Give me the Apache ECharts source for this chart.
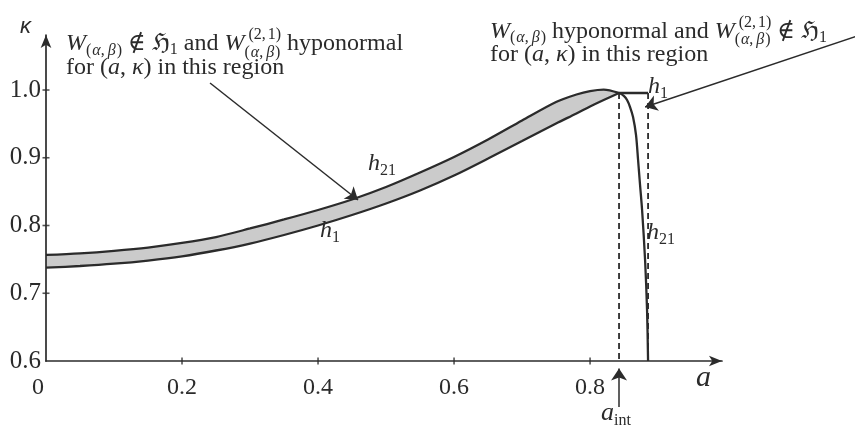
<!DOCTYPE html>
<html>
<head>
<meta charset="utf-8">
<script src="https://cdn.jsdelivr.net/npm/echarts@6/dist/echarts.min.js"></script>
<style>
  html, body { margin: 0; padding: 0; background: #fff; }
  #chart { width: 855px; height: 428px; }
</style>
</head>
<body>
<div id="chart"></div>
<script>
// Sample points a along the shaded band, with the two boundary curves h21 (upper) and h1 (lower)
const aBand   = [0, 0.05, 0.1, 0.15, 0.2, 0.25, 0.3, 0.35, 0.4, 0.45, 0.5, 0.55, 0.6, 0.65, 0.7, 0.75, 0.78, 0.8, 0.82, 0.8426];
const h21Band = [0.7565, 0.7590, 0.7627, 0.7675, 0.7742, 0.7830, 0.7956, 0.8089, 0.8229, 0.8384, 0.8568, 0.8782, 0.9011, 0.9269, 0.9550, 0.9823, 0.9934, 0.9985, 1.0007, 0.9956];
const h1Band  = [0.7377, 0.7402, 0.7436, 0.7483, 0.7545, 0.7631, 0.7734, 0.7860, 0.8000, 0.8155, 0.8325, 0.8517, 0.8738, 0.8989, 0.9247, 0.9506, 0.9653, 0.9757, 0.9853, 0.9956];

// Steep descending branch of h21 past a_int
const aH21Drop = [0.8500, 0.8544, 0.8588, 0.8632, 0.8676, 0.8706, 0.8735, 0.8765, 0.8809, 0.8838, 0.8853];
const h21Drop  = [0.9911, 0.9852, 0.9749, 0.9601, 0.9335, 0.8967, 0.8598, 0.8229, 0.7491, 0.6753, 0.6000];

// h1 runs flat past a_int up to its vertical asymptote
const aInt = 0.8426;
const aH1Pole = 0.8853;
const h1Cap = 0.9956;

// Axis ticks
const xTicks = [0, 0.2, 0.4, 0.6, 0.8];
const yTicks = [0.6, 0.7, 0.8, 0.9, 1.0];

// Pointer arrows: [from, to] in (a, kappa)
const leftPointer  = [[0.2412, 1.0103], [0.4588, 0.8376]];
const rightPointer = [[1.2000, 1.0820], [0.8809, 0.9749]];
const aIntPointer  = [[aInt, 0.532], [aInt, 0.589]];

const ink = '#2b2b2b';
const serif = '"Liberation Serif", "DejaVu Serif", serif';
const S = 24, s = 16;

const chart = echarts.init(document.getElementById('chart'), null, { renderer: 'canvas' });

// --- text run layout (sub/superscripts placed piece by piece) ---
const mctx = document.createElement('canvas').getContext('2d');
function fontStr(size, italic, family) {
  return (italic ? 'italic ' : '') + size + 'px ' + (family || serif);
}
function measure(p) {
  mctx.font = fontStr(p.s, p.i, p.f);
  return mctx.measureText(p.t).width;
}
function textEl(p, x, base) {
  return {
    type: 'text', x: x, y: base + (p.dy || 0) - 0.3375 * p.s, silent: true, z: 50,
    style: { text: p.t, font: fontStr(p.s, p.i, p.f), fill: ink, align: 'left', verticalAlign: 'middle' }
  };
}
function runLine(x, base, parts, out) {
  parts.forEach(p => {
    if (p.gap) {
      x += p.gap;
    } else if (p.stack) {
      let w = 0;
      p.stack.forEach(row => { w = Math.max(w, runLine(x, base, row, out) - x); });
      x += w;
    } else {
      out.push(textEl(p, x, base));
      x += measure(p);
    }
  });
  return x;
}
// math-style subscript (α,β)
const subAB = (dy) => [
  { t: '(', s: s, dy: dy }, { gap: 1 }, { t: 'α', s: s, i: true, dy: dy }, { t: ',', s: s, dy: dy }, { gap: 3 },
  { t: 'β', s: s, i: true, dy: dy }, { gap: 1 }, { t: ')', s: s, dy: dy }
];
const sup21 = (dy) => [{ t: '(2,', s: s, dy: dy }, { gap: 2 }, { t: '1)', s: s, dy: dy }];
const regionLine = [{ t: 'for (', s: S }, { t: 'a', s: S, i: true }, { t: ', ', s: S }, { t: 'κ', s: S, i: true }, { t: ') in this region', s: S }];

const texts = [];
// left note
runLine(66, 52, [
  { t: 'W', s: S, i: true }, ...subAB(4),
  { t: ' ∉ ℌ', s: S }, { t: '1', s: s, dy: 3 },
  { t: ' and ', s: S }, { t: 'W', s: S, i: true },
  { stack: [[{ gap: 4 }, ...sup21(-12)], subAB(6)] },
  { t: ' hyponormal', s: S }
], texts);
runLine(66, 76, regionLine, texts);
// right note
runLine(490, 40, [
  { t: 'W', s: S, i: true }, ...subAB(3),
  { t: ' hyponormal and ', s: S }, { t: 'W', s: S, i: true },
  { stack: [[{ gap: 4 }, ...sup21(-12)], subAB(5)] },
  { t: ' ∉ ℌ', s: S }, { t: '1', s: s, dy: 3 }
], texts);
runLine(490, 63, regionLine, texts);
// curve names
runLine(368, 172, [{ t: 'h', s: S, i: true }, { t: '21', s: s, dy: 4 }], texts);
runLine(320, 239, [{ t: 'h', s: S, i: true }, { t: '1', s: s, dy: 4 }], texts);
runLine(648, 95, [{ t: 'h', s: S, i: true }, { t: '1', s: s, dy: 4 }], texts);
runLine(647, 241, [{ t: 'h', s: S, i: true }, { t: '21', s: s, dy: 4 }], texts);
// axis names
runLine(20, 34, [{ t: 'κ', s: 22, i: true, f: '"Liberation Sans", sans-serif' }], texts);
runLine(696, 388, [{ t: 'a', s: 30, i: true }], texts);
runLine(601, 422, [{ t: 'a', s: 26, i: true }, { t: 'int', s: s, dy: 4 }], texts);

const isTick = (list, v) => list.some(t => Math.abs(t - v) < 1e-6);
const SMOOTH = 0.3;
const pairs = (xs, ys) => xs.map((a, i) => [a, ys[i]]);

const option = {
  animation: false,
  backgroundColor: '#fff',
  grid: { left: 46, top: 35, width: 676, height: 326, containLabel: false },
  xAxis: {
    type: 'value', min: 0, max: 0.994, interval: 0.2, z: 6,
    splitLine: { show: false },
    axisLine: { lineStyle: { color: ink, width: 1.7 }, symbol: ['none', 'arrow'], symbolSize: [8, 13] },
    axisTick: { show: false },
    axisLabel: {
      color: ink, fontFamily: serif, fontSize: 24, margin: 15,
      formatter: v => isTick(xTicks, v) ? (v === 0 ? '{z|0}' : v.toFixed(1)) : '',
      rich: { z: { fontFamily: serif, fontSize: 24, color: ink, padding: [0, 16, 0, 0] } }
    }
  },
  yAxis: {
    type: 'value', min: 0.6, max: 1.0812, interval: 0.1, z: 6,
    splitLine: { show: false },
    axisLine: { lineStyle: { color: ink, width: 1.7 }, symbol: ['none', 'arrow'], symbolSize: [8, 13] },
    axisTick: { show: false },
    axisLabel: {
      color: ink, fontFamily: serif, fontSize: 25, margin: 5,
      formatter: v => isTick(yTicks, v) ? v.toFixed(1) : ''
    }
  },
  graphic: { elements: texts },
  series: [
    // shaded band: grey under h21, then white under h1
    {
      name: 'band top', type: 'line', z: 1, showSymbol: false, silent: true, smooth: SMOOTH,
      data: pairs(aBand, h21Band),
      lineStyle: { opacity: 0 },
      areaStyle: { color: '#cbcbcb', opacity: 1, origin: 'start' }
    },
    {
      name: 'band bottom', type: 'line', z: 2, showSymbol: false, silent: true, smooth: SMOOTH,
      data: pairs(aBand, h1Band),
      lineStyle: { opacity: 0 },
      areaStyle: { color: '#ffffff', opacity: 1, origin: 'start' }
    },
    {
      name: 'h21', type: 'line', z: 3, showSymbol: false, silent: true, smooth: SMOOTH,
      data: pairs(aBand, h21Band).concat(pairs(aH21Drop, h21Drop)),
      lineStyle: { color: ink, width: 2.3 }
    },
    {
      name: 'h1', type: 'line', z: 3, showSymbol: false, silent: true, smooth: SMOOTH,
      data: pairs(aBand, h1Band),
      lineStyle: { color: ink, width: 2.3 }
    },
    {
      name: 'h1 cap', type: 'line', z: 3, showSymbol: false, silent: true,
      data: [[aInt, h1Cap], [aH1Pole, h1Cap]],
      lineStyle: { color: ink, width: 2.3 }
    },
    {
      name: 'a_int', type: 'line', z: 3, showSymbol: false, silent: true,
      data: [[aInt, h1Cap], [aInt, 0.6]],
      lineStyle: { color: ink, width: 1.8, type: [6, 4] }
    },
    {
      name: 'h1 asymptote', type: 'line', z: 3, showSymbol: false, silent: true,
      data: [[aH1Pole, h1Cap], [aH1Pole, 0.6]],
      lineStyle: { color: ink, width: 1.8, type: [6, 4] }
    },
    {
      // tick marks crossing the axes
      type: 'scatter', z: 7, silent: true, clip: false,
      symbol: 'rect', symbolSize: [1.6, 7],
      data: xTicks.filter(v => v > 0).map(v => [v, 0.6]),
      itemStyle: { color: ink }
    },
    {
      type: 'scatter', z: 7, silent: true, clip: false,
      symbol: 'rect', symbolSize: [7, 1.6],
      data: yTicks.filter(v => v > 0.6).map(v => [0, v]),
      itemStyle: { color: ink }
    },
    {
      type: 'lines', coordinateSystem: 'cartesian2d', z: 5, silent: true, clip: false,
      symbol: ['none', 'arrow'], symbolSize: [7, 12],
      lineStyle: { color: ink, width: 1.5, opacity: 1, curveness: 0 },
      data: [{ coords: leftPointer }, { coords: rightPointer }, { coords: aIntPointer }]
    }
  ]
};
chart.setOption(option);
</script>
</body>
</html>
